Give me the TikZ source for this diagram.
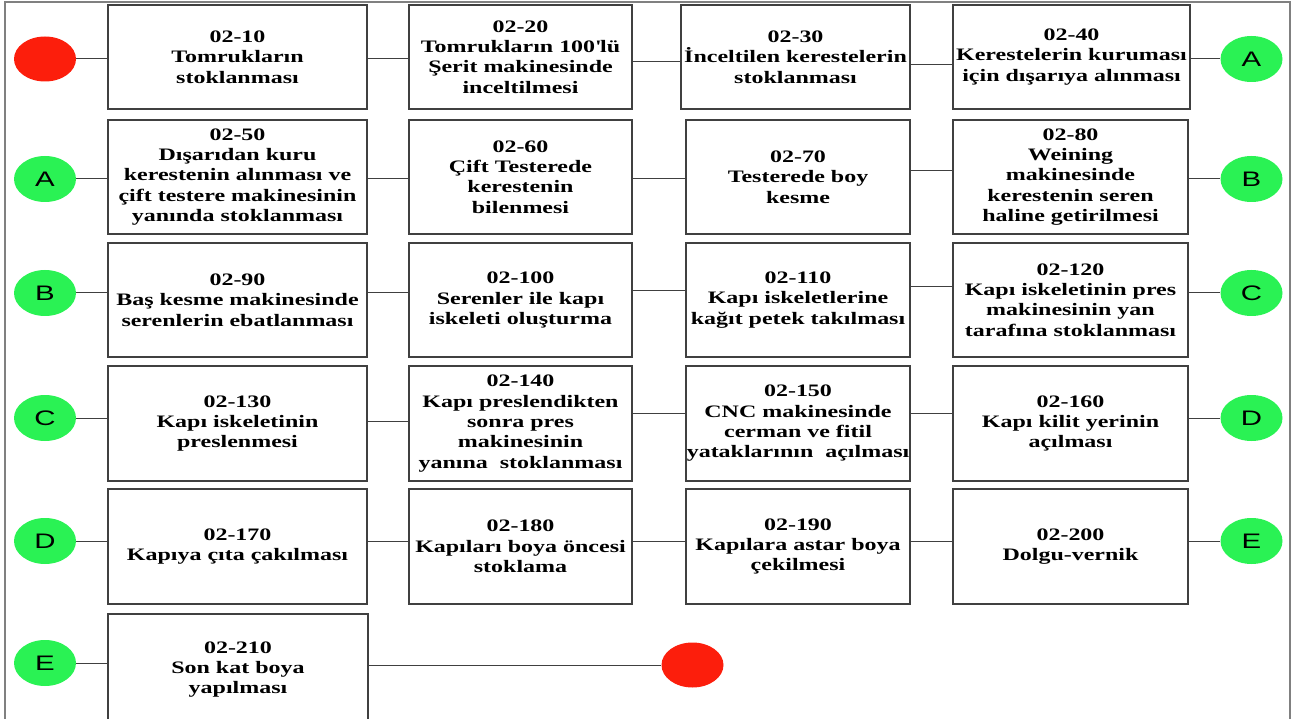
\documentclass[tikz,border=0pt]{standalone}
\usepackage{fontspec}
\setmainfont[FakeStretch=1.37]{Liberation Serif}
\newfontfamily\letterfont[FakeStretch=1.4]{Liberation Sans}
\usepackage{tikz}
\usetikzlibrary{shapes}
\definecolor{stopred}{RGB}{252,30,12}
\definecolor{linkgreen}{RGB}{42,242,84}
\definecolor{framegray}{RGB}{128,128,128}
\definecolor{boxgray}{RGB}{64,64,64}
\tikzset{
  procbox/.style={draw=boxgray, line width=1.3pt, align=center, inner sep=0pt,
    minimum height=114pt, font=\fontsize{17.5}{20.3}\selectfont\bfseries},
  link/.style={ellipse, fill=linkgreen, inner sep=0pt, minimum width=62pt,
    minimum height=46pt, font=\fontsize{21}{21}\selectfont\letterfont},
  stopper/.style={ellipse, fill=stopred, inner sep=0pt, minimum width=62pt,
    minimum height=45pt},
  wire/.style={draw=boxgray, line width=1pt}
}

\begin{document}
\begin{tikzpicture}[x=1pt, y=-1pt]

    \useasboundingbox (0,0) rectangle (1301,719);
    \draw[framegray, line width=2.5pt] (5,730) -- (5,2) -- (1290,2) -- (1290,730);

    % row 1
    \draw(45,59) node[stopper] (start) {};
    \draw(237.5,57) node[procbox, minimum width=259pt, minimum height=104pt] (p10)
    {02-10\\Tomrukların\\stoklanması};
    \draw(520.5,57) node[procbox, minimum width=223pt, minimum height=104pt] (p20)
    {02-20\\Tomrukların 100\textquotesingle lü\\Şerit makinesinde\\inceltilmesi};
    \draw(795.5,57) node[procbox, minimum width=229pt, minimum height=104pt] (p30)
    {02-30\\İnceltilen kerestelerin\\stoklanması};
    \draw(1071.5,57) node[procbox, minimum width=237pt, minimum height=104pt] (p40)
    {02-40\\Kerestelerin kuruması\\için dışarıya alınması};
    \draw(1251.5,59) node[link] (aout) {A};

    % row 2
    \draw(45,179) node[link] (ain) {A};
    \draw(237.5,177) node[procbox, minimum width=259pt] (p50)
    {02-50\\Dışarıdan kuru\\kerestenin alınması ve\\çift testere makinesinin\\yanında stoklanması};
    \draw(520.5,177) node[procbox, minimum width=223pt] (p60)
    {02-60\\Çift Testerede\\kerestenin\\bilenmesi};
    \draw(798,177) node[procbox, minimum width=224pt] (p70)
    {02-70\\Testerede boy\\kesme};
    \draw(1070.5,177) node[procbox, minimum width=235pt] (p80)
    {02-80\\Weining\\makinesinde\\kerestenin seren\\haline getirilmesi};
    \draw(1251.5,179) node[link] (bout) {B};

    % row 3
    \draw(45,293) node[link] (bin) {B};
    \draw(237.5,300) node[procbox, minimum width=259pt] (p90)
    {02-90\\Baş kesme makinesinde\\serenlerin ebatlanması};
    \draw(520.5,300) node[procbox, minimum width=223pt] (p100)
    {02-100\\Serenler ile kapı\\iskeleti oluşturma};
    \draw(798,300) node[procbox, minimum width=224pt] (p110)
    {02-110\\Kapı iskeletlerine\\kağıt petek takılması};
    \draw(1070.5,300) node[procbox, minimum width=235pt] (p120)
    {02-120\\Kapı iskeletinin pres\\makinesinin yan\\tarafına stoklanması};
    \draw(1251.5,293) node[link] (cout) {C};

    % row 4
    \draw(45,418) node[link] (cin) {C};
    \draw(237.5,423.5) node[procbox, minimum width=259pt, minimum height=115pt] (p130)
    {02-130\\Kapı iskeletinin\\preslenmesi};
    \draw(520.5,423.5) node[procbox, minimum width=223pt, minimum height=115pt] (p140)
    {02-140\\Kapı preslendikten\\sonra pres\\makinesinin\\yanına \ stoklanması};
    \draw(798,423.5) node[procbox, minimum width=224pt, minimum height=115pt] (p150)
    {02-150\\CNC makinesinde\\cerman ve fitil\\yataklarının \ açılması};
    \draw(1070.5,423.5) node[procbox, minimum width=235pt, minimum height=115pt] (p160)
    {02-160\\Kapı kilit yerinin\\açılması};
    \draw(1251.5,418) node[link] (dout) {D};

    % row 5
    \draw(45,541) node[link] (din) {D};
    \draw(237.5,546.5) node[procbox, minimum width=259pt, minimum height=115pt] (p170)
    {02-170\\Kapıya çıta çakılması};
    \draw(520.5,546.5) node[procbox, minimum width=223pt, minimum height=115pt] (p180)
    {02-180\\Kapıları boya öncesi\\stoklama};
    \draw(798,546.5) node[procbox, minimum width=224pt, minimum height=115pt] (p190)
    {02-190\\Kapılara astar boya\\çekilmesi};
    \draw(1070.5,546.5) node[procbox, minimum width=235pt, minimum height=115pt] (p200)
    {02-200\\Dolgu-vernik};
    \draw(1251.5,541) node[link] (eout) {E};

    % row 6
    \draw(45,663) node[link] (ein) {E};
    \draw(238,669.5) node[procbox, minimum width=260pt, minimum height=111pt] (p210)
    {02-210\\Son kat boya\\yapılması};
    \draw(692.5,665) node[stopper] (stop) {};

    \draw[wire] (start) -- (start -| p10.west);
    \draw[wire] (p10.east |- start) -- (p20.west |- start);
    \draw[wire] (p20.east |- 0,62) -- (p30.west |- 0,62);
    \draw[wire] (p30.east |- 0,65) -- (p40.west |- 0,65);
    \draw[wire] (p40.east |- aout) -- (aout);

    \draw[wire] (ain) -- (ain -| p50.west);
    \draw[wire] (p50.east |- ain) -- (p60.west |- ain);
    \draw[wire] (p60.east |- ain) -- (p70.west |- ain);
    \draw[wire] (p70.east |- 0,171) -- (p80.west |- 0,171);
    \draw[wire] (p80.east |- bout) -- (bout);

    \draw[wire] (bin) -- (bin -| p90.west);
    \draw[wire] (p90.east |- bin) -- (p100.west |- bin);
    \draw[wire] (p100.east |- 0,291) -- (p110.west |- 0,291);
    \draw[wire] (p110.east |- 0,287) -- (p120.west |- 0,287);
    \draw[wire] (p120.east |- cout) -- (cout);

    \draw[wire] (cin) -- (cin -| p130.west);
    \draw[wire] (p130.east |- 0,421) -- (p140.west |- 0,421);
    \draw[wire] (p140.east |- 0,413) -- (p150.west |- 0,413);
    \draw[wire] (p150.east |- 0,413) -- (p160.west |- 0,413);
    \draw[wire] (p160.east |- dout) -- (dout);

    \draw[wire] (din) -- (din -| p170.west);
    \draw[wire] (p170.east |- din) -- (p180.west |- din);
    \draw[wire] (p180.east |- din) -- (p190.west |- din);
    \draw[wire] (p190.east |- din) -- (p200.west |- din);
    \draw[wire] (p200.east |- eout) -- (eout);

    \draw[wire] (ein) -- (ein -| p210.west);
    \draw[wire] (p210.east |- stop) -- (stop);

\end{tikzpicture}
\end{document}
